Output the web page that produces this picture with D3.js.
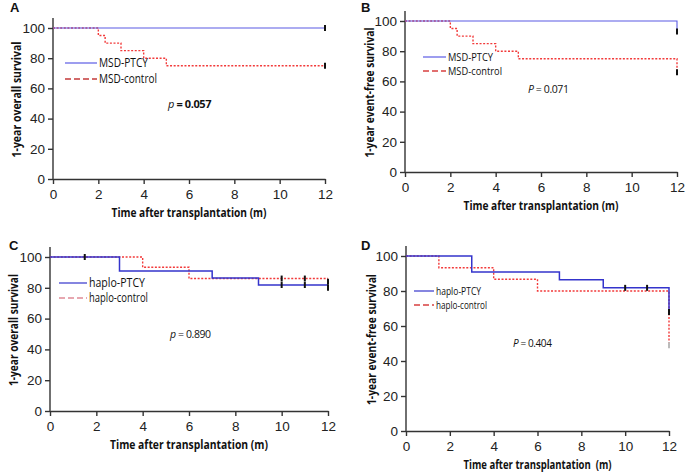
<!DOCTYPE html>
<html lang="en">
<head>
<meta charset="utf-8">
<title>Survival curves</title>
<script src="https://cdn.jsdelivr.net/npm/d3@7"></script>
<style>
  body { margin: 0; background: #fff; }
  svg text { fill: #111; }
  .tick text { font-family: "Liberation Sans", Arial, sans-serif; font-size: 13.5px; fill: #222; }
  .tick line, .domain { stroke: #333; stroke-width: 1.4px; }
  .atitle { font-family: "Open Sans", sans-serif; font-weight: 700; font-size: 12.5px; }
  .leg { font-family: "Open Sans", sans-serif; font-size: 12px; }
  .pv { font-family: "Open Sans", sans-serif; letter-spacing: -0.4px; }
  .plab { font-family: "Liberation Sans", Arial, sans-serif; font-weight: 700; font-size: 13px; }
</style>
</head>
<body>
<script>
// ---- data (time in months, survival in %) ----
var xTicks = [0, 2, 4, 6, 8, 10, 12];
var yTicks = [0, 20, 40, 60, 80, 100];

var aPtcy = [[0, 100], [12, 100]];
var aControl = [[0, 100], [2, 95], [2.3, 90], [3, 85], [4, 80], [5, 75], [12, 75]];
var aPtcyCensor = [[12, 100]];
var aControlCensor = [[12, 75]];

var bPtcy = [[0, 100], [12, 93]];
var bControl = [[0, 100], [2, 95], [2.3, 90], [3, 85], [4, 80], [5, 75], [12, 66]];
var bPtcyCensor = [[12, 93]];
var bControlCensor = [[12, 66]];

var cPtcy = [[0, 100], [3, 90.9], [7, 86.4], [9, 81.8], [12, 81.8]];
var cControl = [[0, 100], [4, 93.3], [6, 86], [12, 86]];
var cPtcyCensor = [[1.5, 100], [10, 81.8], [11, 81.8], [12, 80]];
var cControlCensor = [[10, 86], [11, 86], [12, 84]];

var dPtcy = [[0, 100], [3, 90.9], [7, 86.4], [9, 81.8], [12, 68]];
var dControl = [[0, 100], [1.5, 93.3], [4, 86.7], [6, 80], [12, 49]];
var dPtcyCensor = [[10, 81.8], [11, 81.8], [12, 68]];
var dControlCensor = [[12, 49]];

var panels = [
  {label: "A", ytitle: "1-year overall survival", names: ["MSD-PTCY", "MSD-control"],
   ptcy: aPtcy, control: aControl, pc: aPtcyCensor, cc: aControlCensor,
   p: "p", pval: "= 0.057", pbold: true, xtitle: "Time after transplantation (m)",
   x0: 53, x1: 325, y0: 179, y1: 28, labX: 10, labY: 12, ytX: 17, xtW: 155, ytW: 116,
   legX: 65, legY: 63, legW: 32, legGap: 16, legFS: 12, legTW: [49, 58], pX: 168, pY: 108, pFS: 11,
   blue: "#5b5be4", blueW: 1.1, legRed: "#c43a3a"},
  {label: "B", ytitle: "1-year event-free survival", names: ["MSD-PTCY", "MSD-control"],
   ptcy: bPtcy, control: bControl, pc: bPtcyCensor, cc: bControlCensor,
   p: "P", pval: "= 0.071", pbold: false, xtitle: "Time after transplantation (m)",
   x0: 405, x1: 677, y0: 172, y1: 21, labX: 361, labY: 12, ytX: 370, xtW: 155, ytW: 130,
   legX: 423, legY: 57, legW: 23, legGap: 14, legFS: 11, legTW: [45, 54], pX: 528, pY: 93, pFS: 10.5,
   blue: "#5b5be4", blueW: 1.1, legRed: "#d84040"},
  {label: "C", ytitle: "1-year overall survival", names: ["haplo-PTCY", "haplo-control"],
   ptcy: cPtcy, control: cControl, pc: cPtcyCensor, cc: cControlCensor,
   p: "p", pval: "= 0.890", pbold: false, xtitle: "Time after transplantation (m)",
   x0: 50, x1: 328, y0: 411, y1: 257, labX: 9, labY: 250, ytX: 14, xtW: 158, ytW: 112,
   legX: 59, legY: 283, legW: 28, legGap: 15, legFS: 12, legTW: [56, 59], pX: 170, pY: 338, pFS: 10.5,
   blue: "#3434cc", blueW: 1.5, legRed: "#e08a96"},
  {label: "D", ytitle: "1-year event-free survival", names: ["haplo-PTCY", "haplo-control"],
   ptcy: dPtcy, control: dControl, pc: dPtcyCensor, cc: dControlCensor,
   p: "P", pval: "= 0.404", pbold: false, xtitle: "Time after transplantation\u00a0\u00a0(m)",
   x0: 406, x1: 669, y0: 431, y1: 256, labX: 361, labY: 250, ytX: 372, xtW: 148, ytW: 131,
   legX: 414, legY: 291, legW: 20, legGap: 14, legFS: 11, legTW: [45, 51], pX: 513, pY: 347, pFS: 10,
   blue: "#3434cc", blueW: 1.5, legRed: "#d84040"}
];

var red = "#f23a3a";

var svg = d3.select("body").append("svg").attr("width", 685).attr("height", 473);

panels.forEach(function(P) {
  var x = d3.scaleLinear().domain([0, 12]).range([P.x0, P.x1]);
  var y = d3.scaleLinear().domain([0, 100]).range([P.y0, P.y1]);
  var g = svg.append("g");

  // axes
  g.append("g").attr("transform", "translate(0," + P.y0 + ")")
    .call(d3.axisBottom(x).tickValues(xTicks).tickSize(5).tickSizeOuter(0).tickPadding(5));
  var ya = g.append("g").attr("transform", "translate(" + P.x0 + ",0)")
    .call(d3.axisLeft(y).tickValues(yTicks).tickSize(5).tickSizeOuter(0).tickPadding(3));
  ya.select(".domain").attr("d", "M0," + P.y0 + "V" + (P.y1 - 10));

  g.append("text").attr("class", "atitle").attr("text-anchor", "middle")
    .attr("x", (P.x0 + P.x1) / 2).attr("y", P.y0 + 38)
    .attr("textLength", P.xtW).attr("lengthAdjust", "spacingAndGlyphs").text(P.xtitle);
  g.append("text").attr("class", "atitle").attr("text-anchor", "middle")
    .attr("transform", "translate(" + (P.ytX + 4) + "," + ((P.y0 + P.y1) / 2 - 4) + ") rotate(-90)")
    .attr("textLength", P.ytW).attr("lengthAdjust", "spacingAndGlyphs").text(P.ytitle);
  g.append("text").attr("class", "plab")
    .attr("x", P.labX).attr("y", P.labY).text(P.label);

  // curves
  var line = d3.line().x(function(d) { return x(d[0]); }).y(function(d) { return y(d[1]); })
    .curve(d3.curveStepAfter);
  g.append("path").datum(P.control).attr("d", line).attr("fill", "none")
    .attr("stroke", red).attr("stroke-width", 1.4).attr("stroke-dasharray", "2,1.6");
  g.append("path").datum(P.ptcy).attr("d", line).attr("fill", "none")
    .attr("stroke", P.blue).attr("stroke-width", P.blueW);

  // censor marks
  g.selectAll(".cens").data(P.pc.concat(P.cc)).enter().append("line")
    .attr("x1", function(d) { return x(d[0]); }).attr("x2", function(d) { return x(d[0]); })
    .attr("y1", function(d) { return y(d[1]) - 3; }).attr("y2", function(d) { return y(d[1]) + 3; })
    .attr("stroke", function(d, i) { return (P.label === "D" && i === P.pc.length) ? "#bbb" : "#111"; })
    .attr("stroke-width", 2);

  // legend
  var leg = g.append("g").attr("transform", "translate(" + P.legX + "," + P.legY + ")");
  leg.append("line").attr("x1", 0).attr("x2", P.legW).attr("y1", 0).attr("y2", 0)
    .attr("stroke", P.blue).attr("stroke-width", 1.2);
  leg.append("text").attr("class", "leg").style("font-size", P.legFS + "px")
    .attr("x", P.legW + 2).attr("y", 4)
    .attr("textLength", P.legTW[0]).attr("lengthAdjust", "spacingAndGlyphs").text(P.names[0]);
  leg.append("line").attr("x1", 0).attr("x2", P.legW).attr("y1", P.legGap).attr("y2", P.legGap)
    .attr("stroke", P.legRed).attr("stroke-width", 1.3).attr("stroke-dasharray", "6,3");
  leg.append("text").attr("class", "leg").style("font-size", P.legFS + "px")
    .attr("x", P.legW + 2).attr("y", P.legGap + 4)
    .attr("textLength", P.legTW[1]).attr("lengthAdjust", "spacingAndGlyphs").text(P.names[1]);

  // p value
  var pt = g.append("text").attr("class", "pv").style("font-size", P.pFS + "px")
    .attr("x", P.pX).attr("y", P.pY);
  pt.append("tspan").attr("font-style", "italic").text(P.p);
  pt.append("tspan").attr("font-weight", P.pbold ? 700 : 400).text(" " + P.pval);
});
</script>
</body>
</html>
